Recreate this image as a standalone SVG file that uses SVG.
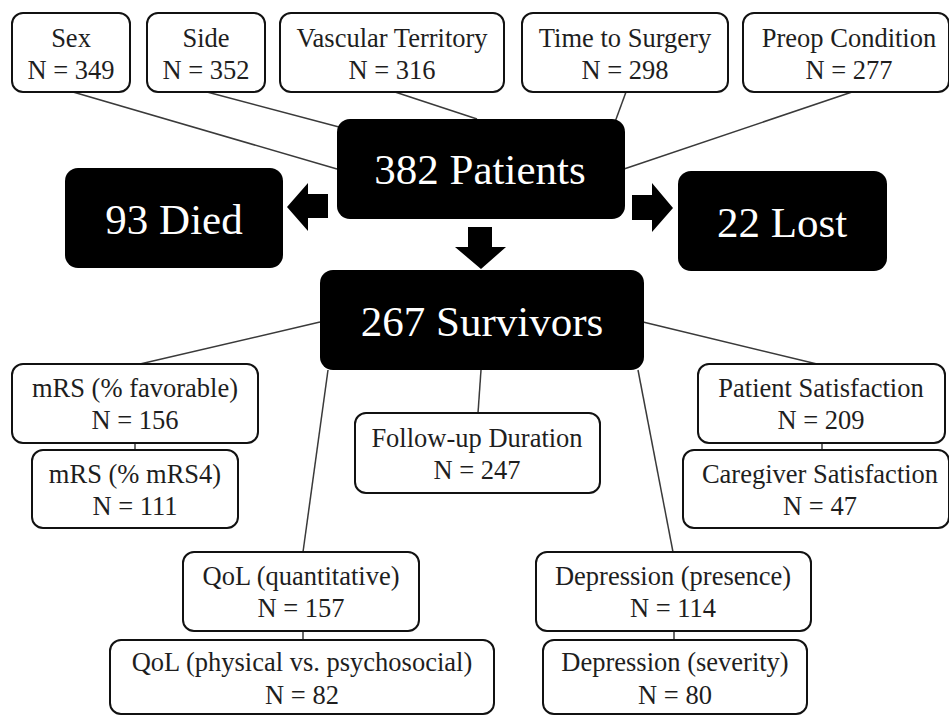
<svg xmlns="http://www.w3.org/2000/svg" width="949" height="715" viewBox="0 0 949 715">
<style>
.box{fill:#fff;stroke:#111;stroke-width:2}
.dark{fill:#000;stroke:none}
.t{font-family:"Liberation Serif","Times New Roman",serif;font-size:26.5px;fill:#1e1e1e;text-anchor:middle}
.big{font-family:"Liberation Serif","Times New Roman",serif;font-size:43px;fill:#fff;text-anchor:middle}
.ln{stroke:#3a3a3a;stroke-width:1.5;fill:none}
.arr{fill:#000}
</style>
<rect width="949" height="715" fill="#fff"/>
<g id="connectors">
<line class="ln" x1="73" y1="92" x2="337" y2="169"/>
<line class="ln" x1="207" y1="92" x2="339" y2="127"/>
<line class="ln" x1="395" y1="92" x2="477" y2="119"/>
<line class="ln" x1="626" y1="92" x2="615" y2="122"/>
<line class="ln" x1="852" y1="92" x2="624" y2="169"/>
<line class="ln" x1="140" y1="364" x2="320" y2="322"/>
<line class="ln" x1="135" y1="443" x2="135" y2="450"/>
<line class="ln" x1="328" y1="370" x2="303" y2="552"/>
<line class="ln" x1="481" y1="370" x2="478" y2="413"/>
<line class="ln" x1="643" y1="322" x2="817" y2="364"/>
<line class="ln" x1="822" y1="443" x2="822" y2="450"/>
<line class="ln" x1="638" y1="370" x2="673" y2="552"/>
<line class="ln" x1="303" y1="631" x2="303" y2="640"/>
<line class="ln" x1="674" y1="631" x2="674" y2="640"/>
<polygon class="arr" points="328,194 308,194 308,183 287,207 308,231 308,218 328,218"/>
<polygon class="arr" points="632,195 652,195 652,183 673,208 652,232 652,220 632,220"/>
<polygon class="arr" points="468,227 492,227 492,247 506,247 481,269 455,247 468,247"/>
</g>
<g id="sex"><rect class="box" x="12" y="13" width="118" height="79" rx="11"/><text class="t" x="71" y="47">Sex</text><text class="t" x="71" y="79">N = 349</text></g>
<g id="side"><rect class="box" x="147" y="13" width="118" height="79" rx="11"/><text class="t" x="206" y="47">Side</text><text class="t" x="206" y="79">N = 352</text></g>
<g id="vascular"><rect class="box" x="280" y="13" width="224" height="79" rx="11"/><text class="t" x="392" y="47">Vascular Territory</text><text class="t" x="392" y="79">N = 316</text></g>
<g id="time"><rect class="box" x="522" y="13" width="206" height="79" rx="11"/><text class="t" x="625" y="47">Time to Surgery</text><text class="t" x="625" y="79">N = 298</text></g>
<g id="preop"><rect class="box" x="743" y="13" width="206" height="79" rx="11"/><text class="t" x="849" y="47">Preop Condition</text><text class="t" x="849" y="79">N = 277</text></g>
<g id="patients"><rect class="dark" x="337" y="119" width="288" height="100" rx="13"/><text class="big" x="480" y="184">382 Patients</text></g>
<g id="died"><rect class="dark" x="65" y="168" width="218" height="100" rx="13"/><text class="big" x="174" y="234">93 Died</text></g>
<g id="lost"><rect class="dark" x="678" y="171" width="209" height="100" rx="13"/><text class="big" x="782" y="237">22 Lost</text></g>
<g id="survivors"><rect class="dark" x="320" y="270" width="324" height="100" rx="13"/><text class="big" x="482" y="336">267 Survivors</text></g>
<g id="mrs-fav"><rect class="box" x="12" y="364" width="246" height="79" rx="11"/><text class="t" x="135" y="397">mRS (% favorable)</text><text class="t" x="135" y="429">N = 156</text></g>
<g id="mrs4"><rect class="box" x="32" y="450" width="206" height="78" rx="11"/><text class="t" x="135" y="483">mRS (% mRS4)</text><text class="t" x="135" y="515">N = 111</text></g>
<g id="followup"><rect class="box" x="355" y="413" width="245" height="80" rx="11"/><text class="t" x="477" y="447">Follow-up Duration</text><text class="t" x="477" y="479">N = 247</text></g>
<g id="patient-sat"><rect class="box" x="698" y="364" width="247" height="79" rx="11"/><text class="t" x="821" y="397">Patient Satisfaction</text><text class="t" x="821" y="429">N = 209</text></g>
<g id="caregiver-sat"><rect class="box" x="683" y="450" width="266" height="78" rx="11"/><text class="t" x="820" y="483">Caregiver Satisfaction</text><text class="t" x="820" y="515">N = 47</text></g>
<g id="qol-quant"><rect class="box" x="183" y="552" width="236" height="79" rx="11"/><text class="t" x="301" y="585">QoL (quantitative)</text><text class="t" x="301" y="617">N = 157</text></g>
<g id="qol-phys"><rect class="box" x="110" y="640" width="384" height="74" rx="11"/><text class="t" x="302" y="671">QoL (physical vs. psychosocial)</text><text class="t" x="302" y="704">N = 82</text></g>
<g id="dep-pres"><rect class="box" x="536" y="552" width="275" height="79" rx="11"/><text class="t" x="673" y="585">Depression (presence)</text><text class="t" x="673" y="617">N = 114</text></g>
<g id="dep-sev"><rect class="box" x="543" y="640" width="264" height="74" rx="11"/><text class="t" x="675" y="671">Depression (severity)</text><text class="t" x="675" y="704">N = 80</text></g>
</svg>
